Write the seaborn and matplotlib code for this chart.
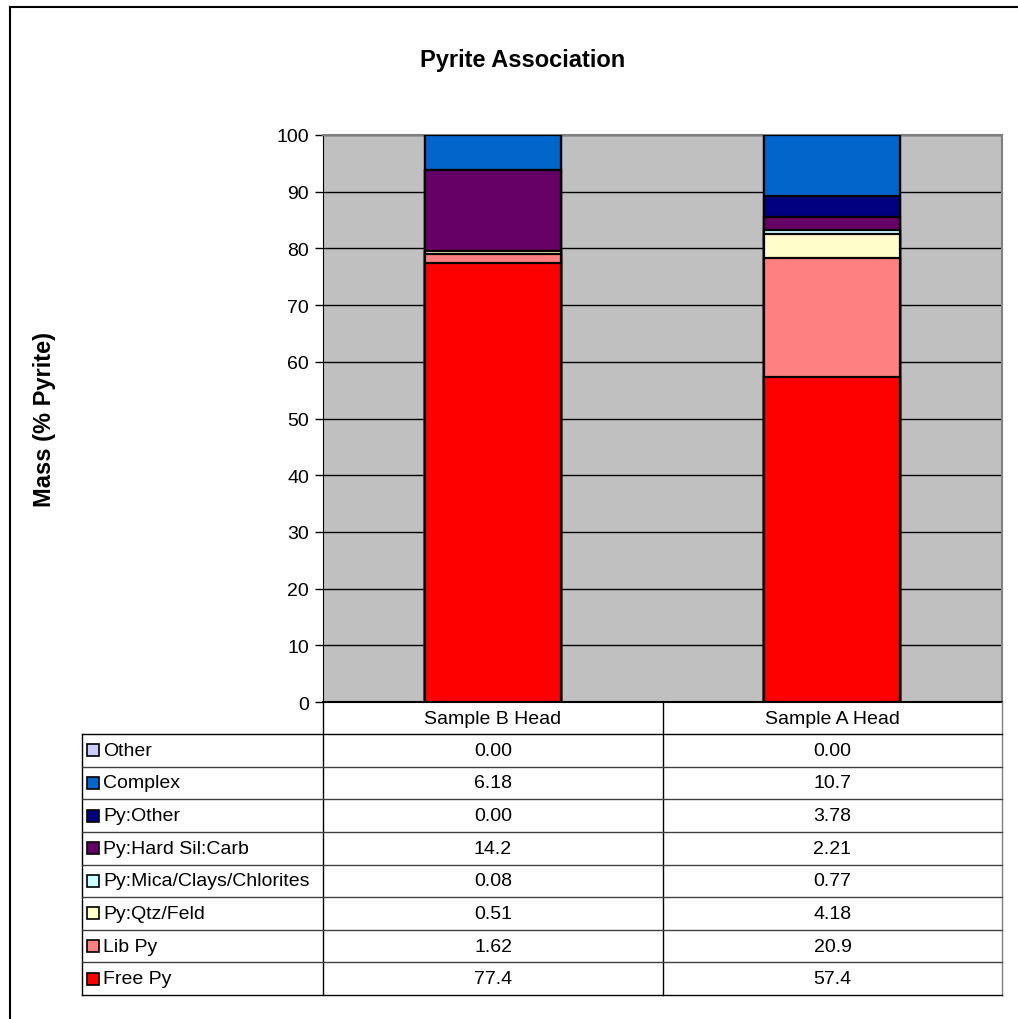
import numpy as np
import pandas as pd
import matplotlib
matplotlib.use('Agg')
import matplotlib.pyplot as plt
import seaborn as sns
from matplotlib.lines import Line2D
from matplotlib.patches import Rectangle

samples = ['Sample B Head', 'Sample A Head']
# legend / table order (top to bottom)
categories = ['Other', 'Complex', 'Py:Other', 'Py:Hard Sil:Carb',
              'Py:Mica/Clays/Chlorites', 'Py:Qtz/Feld', 'Lib Py', 'Free Py']
sample_b = [0.00, 6.18, 0.00, 14.2, 0.08, 0.51, 1.62, 77.4]
sample_a = [0.00, 10.7, 3.78, 2.21, 0.77, 4.18, 20.9, 57.4]
colors = ['#CCCCFF', '#0066CC', '#000080', '#660066',
          '#CCFFFF', '#FFFFCC', '#FF8080', '#FF0000']

W, H = 1018, 1020
plt.rcParams['font.family'] = ['Liberation Sans', 'DejaVu Sans']

def fx(x):
    return x / W

def fy(y):
    return 1 - y / H

def fmt(v):
    return '%.1f' % v if v >= 10 else '%.2f' % v

# long table with cumulative stack heights (stack from the bottom: Free Py first)
rows = []
for s, vals in zip(samples, [sample_b, sample_a]):
    cum = 0
    for cat, v in zip(categories[::-1], vals[::-1]):
        cum += v
        rows.append({'sample': s, 'category': cat, 'value': v, 'cum': cum})
df = pd.DataFrame(rows)

fig = plt.figure(figsize=(W / 100, H / 100), dpi=100)
ax_left, ax_right, ax_top, ax_bot = 323, 1002, 136, 703
ax = fig.add_axes([fx(ax_left), fy(ax_bot), fx(ax_right - ax_left), (ax_bot - ax_top) / H])
ax.set_facecolor('#C0C0C0')

# draw tallest cumulative first so lower segments overlay it
for cat, col in zip(categories, colors):
    sub = df[df['category'] == cat]
    sns.barplot(data=sub, x='sample', y='cum', order=samples, color=col,
                saturation=1, width=0.4, edgecolor='black', linewidth=1.6,
                ax=ax, zorder=3)

ax.set_xlim(-0.5, 1.5)
ax.set_ylim(0, 100)
ax.set_yticks(np.arange(0, 101, 10))
ax.tick_params(axis='y', labelsize=14, length=6, width=1, direction='out', pad=4)
ax.set_xticks([])
ax.set_xlabel('')
ax.set_ylabel('')
ax.yaxis.grid(True, color='black', linewidth=1)
ax.set_axisbelow(True)
for side in ['top', 'right']:
    ax.spines[side].set_color('#808080')
    ax.spines[side].set_linewidth(1.5)
ax.spines['left'].set_color('black')
ax.spines['bottom'].set_color('black')
ax.spines['bottom'].set_linewidth(1.5)

fig.text(fx(523), fy(61), 'Pyrite Association', ha='center', va='center',
         fontsize=17, fontweight='bold')
fig.text(fx(45), fy(420), 'Mass (% Pyrite)', ha='center', va='center',
         rotation=90, fontsize=17, fontweight='bold')

# data table below the plot
col_x = [323, 663, 1002]
lab_x = 82
head_top, head_bot, tab_bot = 703, 735, 996
row_h = (tab_bot - head_bot) / len(categories)

def hline(x0, x1, y, c='black', lw=1):
    fig.add_artist(Line2D([fx(x0), fx(x1)], [fy(y), fy(y)], color=c, lw=lw))

def vline(x, y0, y1, c='black', lw=1):
    fig.add_artist(Line2D([fx(x), fx(x)], [fy(y0), fy(y1)], color=c, lw=lw))

for x in col_x:
    vline(x, head_top, tab_bot, c='#808080' if x == 1002 else 'black')
vline(lab_x, head_bot, tab_bot)
for i in range(len(categories) + 1):
    y = head_bot + i * row_h
    hline(lab_x, col_x[-1], y, c='black' if i in (0, len(categories)) else '#404040')

for j, s in enumerate(samples):
    cx = (col_x[j] + col_x[j + 1]) / 2
    fig.text(fx(cx), fy((head_top + head_bot) / 2), s, ha='center', va='center', fontsize=14)

for i, (cat, col) in enumerate(zip(categories, colors)):
    yc = head_bot + (i + 0.5) * row_h
    fig.add_artist(Rectangle((fx(87), fy(yc + 6)), 12 / W, 12 / H, facecolor=col,
                             edgecolor='black', lw=1.2, transform=fig.transFigure))
    fig.text(fx(103), fy(yc), cat, ha='left', va='center', fontsize=14)
    for j, vals in enumerate([sample_b, sample_a]):
        cx = (col_x[j] + col_x[j + 1]) / 2
        fig.text(fx(cx), fy(yc), fmt(vals[i]), ha='center', va='center', fontsize=14)

# chart frame (left and top edges visible)
vline(10, 8, H, lw=1.5)
hline(10, W, 8, lw=1.5)

fig.savefig('out.png', dpi=100)
